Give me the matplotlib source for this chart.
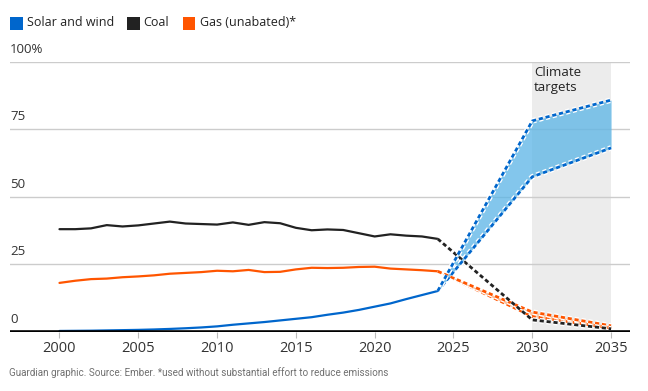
import matplotlib
matplotlib.use("Agg")
import matplotlib.pyplot as plt
import matplotlib.patheffects as pe
from matplotlib.patches import Rectangle

plt.rcParams['font.family'] = ['Open Sans', 'DejaVu Sans']

years = list(range(2000, 2025))
coal = [37.9, 37.9, 38.2, 39.4, 38.9, 39.3, 40.0, 40.7, 40.0, 39.8, 39.6, 40.4, 39.5,
        40.5, 40.1, 38.4, 37.5, 37.8, 37.6, 36.4, 35.2, 36.0, 35.5, 35.2, 34.3]
gas = [18.0, 18.8, 19.4, 19.6, 20.1, 20.4, 20.8, 21.4, 21.7, 22.0, 22.5, 22.3, 22.8,
       22.0, 22.1, 23.0, 23.6, 23.5, 23.6, 23.9, 24.0, 23.3, 23.0, 22.7, 22.3]
solar = [0.2, 0.25, 0.3, 0.4, 0.5, 0.6, 0.75, 0.95, 1.2, 1.5, 1.9, 2.5, 3.0, 3.5,
         4.1, 4.7, 5.3, 6.2, 7.0, 8.0, 9.2, 10.4, 12.0, 13.5, 15.0]

proj_years = [2024, 2030, 2035]
solar_hi = [15.0, 78.0, 85.7]
solar_lo = [15.0, 57.3, 68.0]
coal_proj = [34.3, 4.3, 1.0]
gas_hi = [22.3, 7.2, 2.1]
gas_lo = [22.3, 5.6, 1.3]

yticks = [0, 25, 50, 75, 100]
ytick_labels = ["0", "25", "50", "75", "100%"]
xticks = [2000, 2005, 2010, 2015, 2020, 2025, 2030, 2035]
target_span = (2030, 2035)

BLUE = '#0066cc'
BLACK = '#222222'
ORANGE = '#ff5500'

fig = plt.figure(figsize=(6.48, 3.91), dpi=100)
ax = fig.add_axes([10/648, 1-331.5/391, 620/648, 270/391])
ax.set_xlim(1996.86, 2036.2)
ax.set_ylim(0, 100)
for s in ax.spines.values():
    s.set_visible(False)

# climate target shading
ax.add_patch(Rectangle((target_span[0], 0), target_span[1]-target_span[0], 100,
                       facecolor='#ececec', edgecolor='none', zorder=0))

# gridlines
for v in yticks[1:]:
    ax.axhline(v, color='#cccccc', lw=1, zorder=1)
for v, lab in zip(yticks, ytick_labels):
    ax.text(1996.86, v + 2.2, lab, ha='left', va='bottom', fontsize=9.5,
            color='#333333')

ax.set_yticks([])
ax.set_xticks(xticks)
ax.set_xticklabels([str(x) for x in xticks], fontsize=10.5, color='#333333')
ax.tick_params(axis='x', length=4, width=0.8, color='#bbbbbb', pad=2.5)

# historical lines
ax.plot(years, coal, color=BLACK, lw=1.6, zorder=4, solid_capstyle='round')
ax.plot(years, gas, color=ORANGE, lw=1.6, zorder=4, solid_capstyle='round')
ax.plot(years, solar, color=BLUE, lw=1.6, zorder=4, solid_capstyle='round')

halo = [pe.Stroke(linewidth=4.0, foreground='white'), pe.Normal()]
dash = (0, (1.5, 1.0))

# projections
ax.fill_between(proj_years, gas_lo, gas_hi, color='#fbc4a0', lw=0, zorder=3)
for g in (gas_lo, gas_hi):
    ax.plot(proj_years, g, color=ORANGE, lw=2.0, ls=dash, zorder=5, path_effects=halo)
ax.plot(proj_years, coal_proj, color=BLACK, lw=2.0, ls=dash, zorder=5, path_effects=halo)
ax.fill_between(proj_years, solar_lo, solar_hi, color='#5ab4e6', alpha=0.75, lw=0, zorder=3)
for s in (solar_lo, solar_hi):
    ax.plot(proj_years, s, color=BLUE, lw=2.0, ls=dash, zorder=6, path_effects=halo)

# baseline
ax.axhline(0, color='black', lw=2.6, zorder=7)

ax.text(2030.1, 98.3, "Climate\ntargets", ha='left', va='top', fontsize=9.5,
        color='#222222', linespacing=1.2, zorder=8)

# legend
legend_items = [("Solar and wind", BLUE, 10, 27), ("Coal", BLACK, 127, 143),
                ("Gas (unabated)*", ORANGE, 183, 200)]
for label, col, sx, tx in legend_items:
    fig.patches.append(Rectangle((sx/648, 1-29.5/391), 12.5/648, 12.5/391,
                                 facecolor=col, edgecolor='none',
                                 transform=fig.transFigure, figure=fig))
    fig.text(tx/648, 1-23/391, label, ha='left', va='center', fontsize=9.0,
             color='#222222')

fig.text(9/648, 1-373/391,
         "Guardian graphic. Source: Ember. *used without substantial effort to reduce emissions",
         ha='left', va='center', fontsize=7.1, color='#707070',
         family=['Roboto', 'DejaVu Sans'])

fig.savefig("out.png", dpi=100, facecolor='white')
